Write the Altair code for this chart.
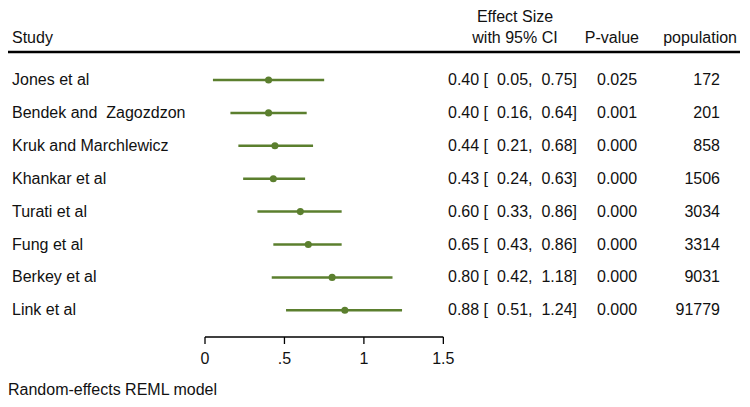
import altair as alt
import pandas as pd

studies = ["Jones et al", "Bendek and\u00a0 Zagozdzon", "Kruk and Marchlewicz", "Khankar et al",
           "Turati et al", "Fung et al", "Berkey et al", "Link et al"]
effect = [0.40, 0.40, 0.44, 0.43, 0.60, 0.65, 0.80, 0.88]
ci_low = [0.05, 0.16, 0.21, 0.24, 0.33, 0.43, 0.42, 0.51]
ci_high = [0.75, 0.64, 0.68, 0.63, 0.86, 0.86, 1.18, 1.24]
p_values = ["0.025", "0.001", "0.000", "0.000", "0.000", "0.000", "0.000", "0.000"]
population = [172, 201, 858, 1506, 3034, 3314, 9031, 91779]

tick_values = [0, 0.5, 1, 1.5]
tick_labels = ["0", ".5", "1", "1.5"]

GREEN = "#5b7f2e"
FONT = "Liberation Sans"
FS = 16
W, H = 734, 391

df = pd.DataFrame({
    "row": list(range(len(studies))),
    "study": studies,
    "es": effect,
    "lo": ci_low,
    "hi": ci_high,
    "p": p_values,
    "pop": [str(v) for v in population],
})
df["ci_text"] = [f"{e:.2f} [\u00a0 {l:.2f}, \u00a0{h:.2f}]" for e, l, h in zip(effect, ci_low, ci_high)]

px_per_unit = 158.9
x0 = 197
xscale = alt.Scale(domain=[-x0 / px_per_unit, (W - x0) / px_per_unit], nice=False, zero=False)
row_step = 32.9
y0 = 72
yscale = alt.Scale(domain=[-y0 / row_step, (H - y0) / row_step], reverse=True, nice=False, zero=False)

base = alt.Chart(df)
X = lambda f: alt.X(f, type="quantitative", scale=xscale, axis=None)
Y = alt.Y("row:Q", scale=yscale, axis=None)

ci = base.mark_rule(color=GREEN, strokeWidth=2.5).encode(x=X("lo"), x2="hi", y=Y)
pts = base.mark_circle(color=GREEN, size=50, opacity=1).encode(x=X("es"), y=Y)

txt = dict(font=FONT, fontSize=FS, color="#111111", baseline="middle")
study_t = base.mark_text(align="left", **txt).encode(x=alt.value(4), y=Y, text="study:N")
ci_t = base.mark_text(align="left", **txt).encode(x=alt.value(440), y=Y, text="ci_text:N")
p_t = base.mark_text(align="left", **txt).encode(x=alt.value(589), y=Y, text="p:N")
pop_t = base.mark_text(align="right", **txt).encode(x=alt.value(712), y=Y, text="pop:N")

hdr = pd.DataFrame({
    "label": ["Study", "Effect Size", "with 95% CI", "P-value", "population"],
    "hx": [4, 507, 507, 631, 729],
    "hy": [30, 9, 30, 30, 30],
    "al": ["left", "center", "center", "right", "right"],
})
headers = []
for _, r in hdr.iterrows():
    headers.append(
        alt.Chart(pd.DataFrame({"t": [r["label"]]})).mark_text(align=r["al"], **txt).encode(
            x=alt.value(int(r["hx"])), y=alt.value(int(r["hy"])), text="t:N"
        )
    )

top_rule = alt.Chart(pd.DataFrame({"a": [0]})).mark_rule(color="#000000", strokeWidth=2.5).encode(
    x=alt.value(0), x2=alt.value(732), y=alt.value(44)
)

ticks_df = pd.DataFrame({"v": tick_values, "lab": tick_labels})
axis_line = alt.Chart(pd.DataFrame({"a": [tick_values[0]], "b": [tick_values[-1]]})).mark_rule(
    color="#000000", strokeWidth=1.3
).encode(x=X("a"), x2="b", y=alt.value(329))
axis_ticks = alt.Chart(ticks_df).mark_rule(color="#000000", strokeWidth=1.3).encode(
    x=X("v"), y=alt.value(329), y2=alt.value(336)
)
axis_labels = alt.Chart(ticks_df).mark_text(align="center", **txt).encode(
    x=X("v"), y=alt.value(351), text="lab:N"
)

footer = alt.Chart(pd.DataFrame({"t": ["Random-effects REML model"]})).mark_text(
    align="left", **txt
).encode(x=alt.value(0), y=alt.value(382), text="t:N")

chart = alt.layer(
    top_rule, ci, pts, study_t, ci_t, p_t, pop_t, *headers, axis_line, axis_ticks, axis_labels, footer
).properties(
    width=W, height=H, autosize=alt.AutoSizeParams(type="none"), padding=0, background="white"
).configure_view(stroke=None)

chart.save("out.html", embed_options={"renderer": "svg", "actions": False})
